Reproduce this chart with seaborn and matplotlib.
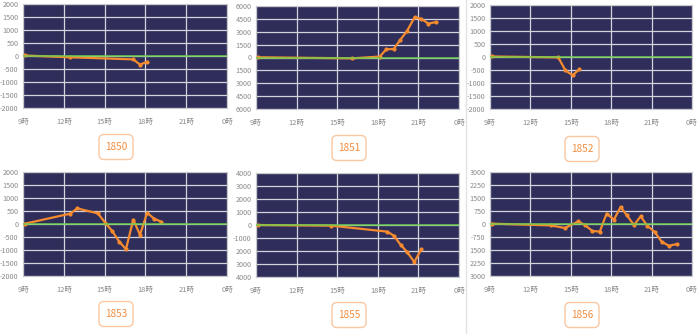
import matplotlib
matplotlib.use("Agg")
import matplotlib.pyplot as plt
from matplotlib.patches import FancyBboxPatch
from matplotlib.lines import Line2D
from matplotlib.transforms import IdentityTransform
import seaborn as sns

sns.set_style("white")
plt.rcParams["font.family"] = ["Noto Sans CJK JP", "DejaVu Sans"]

# hourly position of each sample (hours since midnight) and its value
codes = ["1850", "1851", "1852", "1853", "1855", "1856"]

hours_1850 = [9.12, 12.49, 17.11, 17.6, 18.15]
vals_1850 = [20, -50, -130, -330, -215]

hours_1851 = [9.15, 16.08, 18.14, 18.64, 19.17, 19.65, 20.16, 20.72, 21.22, 21.74, 22.3]
vals_1851 = [30, -100, 110, 970, 980, 2030, 3090, 4700, 4500, 3950, 4130]

hours_1852 = [9.15, 14.07, 14.6, 15.13, 15.62]
vals_1852 = [20, -15, -515, -705, -475]

hours_1853 = [9.12, 12.49, 12.98, 14.5, 15.04, 15.54, 16.08, 16.57, 17.11, 17.6, 18.13, 18.65, 19.16]
vals_1853 = [10, 400, 600, 410, 55, -260, -680, -970, 170, -415, 430, 200, 90]

hours_1855 = [9.17, 14.55, 18.7, 19.18, 19.68, 20.18, 20.7, 21.22]
vals_1855 = [0, -50, -510, -820, -1510, -2100, -2850, -1850]

hours_1856 = [9.12, 13.5, 14.57, 15.56, 16.08, 16.6, 17.15, 17.66, 18.2, 18.7,
              19.17, 19.69, 20.19, 20.68, 21.23, 21.75, 22.29, 22.86]
vals_1856 = [20, -80, -230, 150, -80, -400, -440, 600, 250, 985,
             495, -60, 440, -100, -460, -1025, -1255, -1160]

# y-axis range (symmetric) and tick step for each panel
y_limits = [2000, 6000, 2000, 2000, 4000, 3000]
y_steps = [500, 1500, 500, 500, 1000, 750]

# y tick labels as printed along each panel's left edge (top to bottom)
ylabels_1850 = ["2000", "1500", "1000", "500", "0", "-500", "-1000", "-1500", "-2000"]
ylabels_1851 = ["6000", "4500", "3000", "1500", "0", "1500", "3000", "4500", "6000"]
ylabels_1852 = ["2000", "1500", "1000", "500", "0", "-500", "-1000", "-1500", "-2000"]
ylabels_1853 = ["2000", "1500", "1000", "500", "0", "-500", "-1000", "-1500", "-2000"]
ylabels_1855 = ["4000", "3000", "2000", "1000", "0", "-1000", "2000", "3000", "4000"]
ylabels_1856 = ["3000", "2250", "1500", "750", "0", "-750", "1500", "2250", "3000"]

x_ticks = [9, 12, 15, 18, 21, 24]
x_ticklabels = ["9時", "12時", "15時", "18時", "21時", "0時"]

series = [
    (hours_1850, vals_1850, ylabels_1850),
    (hours_1851, vals_1851, ylabels_1851),
    (hours_1852, vals_1852, ylabels_1852),
    (hours_1853, vals_1853, ylabels_1853),
    (hours_1855, vals_1855, ylabels_1855),
    (hours_1856, vals_1856, ylabels_1856),
]

W, H = 700, 334
fig = plt.figure(figsize=(W / 100, H / 100), dpi=100)

# plot-area rectangles in pixels: (left, top, right, bottom)
rects = [
    (23, 4, 227, 108),
    (256, 6, 459, 109),
    (490, 5, 692, 109),
    (23, 172, 227, 276),
    (256, 173, 459, 277),
    (490, 172, 692, 276),
]
# centres of the code badges in pixels
badges = [(116, 147), (349, 148), (582, 149), (116, 314), (349, 315), (582, 315)]

NAVY = "#2f2e5a"
ORANGE = "#f58a2e"
GREEN = "#6ccf4f"
GRID = "#d4d4dc"
TXT = "#8a8a8a"

for i, ((hx, hy, ylab), (l, t, r, b)) in enumerate(zip(series, rects)):
    ax = fig.add_axes([l / W, 1 - b / H, (r - l) / W, (b - t) / H])
    ax.set_facecolor(NAVY)
    lim = y_limits[i]
    step = y_steps[i]
    yt = [lim - k * step for k in range(9)]

    sns.lineplot(x=hx, y=hy, ax=ax, color=ORANGE, linewidth=1.6,
                 marker="o", markersize=3.0, markeredgewidth=0, zorder=3)
    ax.axhline(0, color=GREEN, linewidth=1.3, alpha=0.8, zorder=4)

    ax.set_xlim(9, 24)
    ax.set_ylim(-lim, lim)
    ax.set_xticks(x_ticks)
    ax.set_xticklabels(x_ticklabels)
    ax.set_yticks(yt)
    ax.set_yticklabels(ylab)
    ax.grid(True, color=GRID, linewidth=0.9, zorder=1)
    ax.set_axisbelow(True)
    for s in ax.spines.values():
        s.set_color("#c8c8cc")
        s.set_linewidth(0.8)
    ax.tick_params(axis="both", colors="#bdbdbd", length=2, width=0.6,
                   labelsize=5.2, labelcolor=TXT, pad=1.2)
    ax.tick_params(axis="x", labelsize=5.4, pad=5)
    ax.set_xlabel("")
    ax.set_ylabel("")

    # code badge under the panel
    cx, cy = badges[i]
    bw, bh = 34, 25
    patch = FancyBboxPatch((cx - bw / 2, H - cy - bh / 2), bw, bh,
                           boxstyle="round,pad=0,rounding_size=5",
                           transform=IdentityTransform(),
                           facecolor="white", edgecolor="#f9c7a2", linewidth=1.0)
    fig.patches.append(patch)
    fig.text(cx / W, 1 - cy / H, codes[i], ha="center", va="center",
             color="#f28c3e", fontsize=7.2)

# thin divider between the middle and right column
fig.add_artist(Line2D([466 / W, 466 / W], [0, 1], transform=fig.transFigure,
                      color="#e2e2e2", linewidth=1.0))

fig.savefig("out.png", dpi=100, facecolor="white")
